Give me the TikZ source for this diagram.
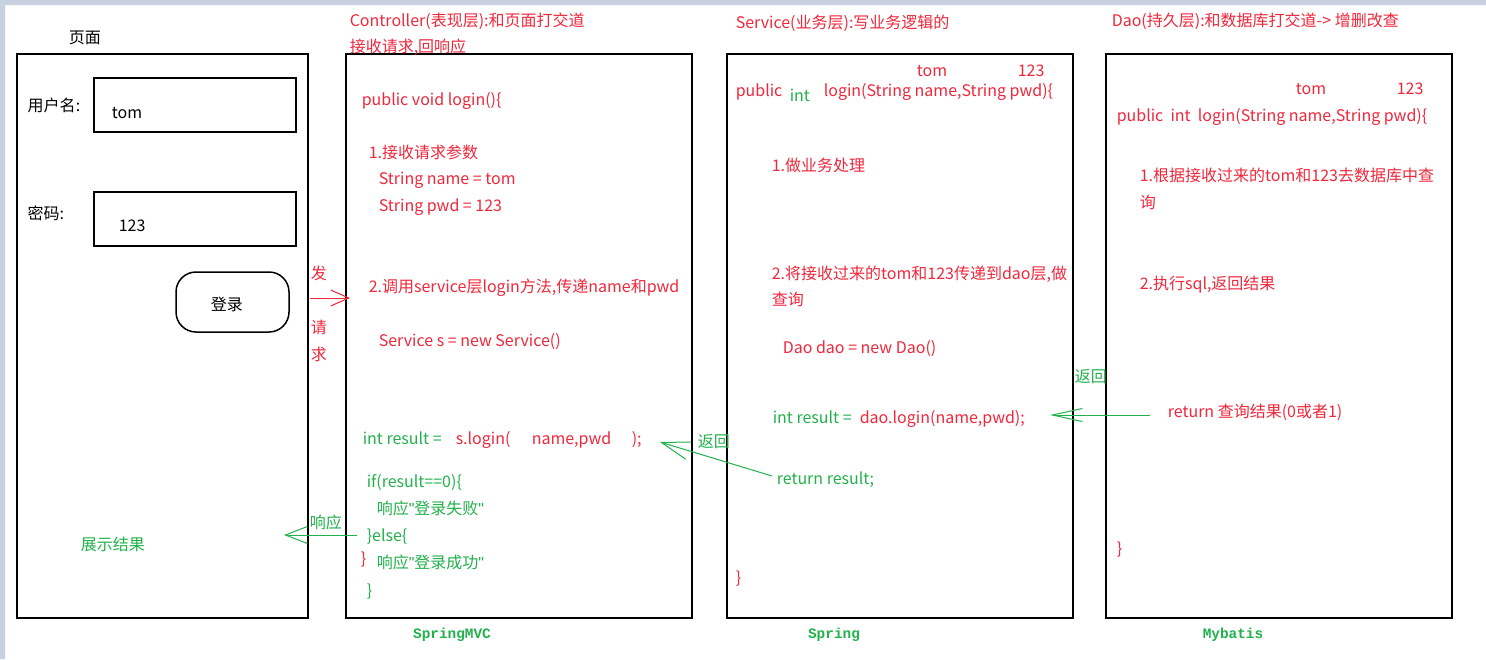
\documentclass[tikz,border=0pt]{standalone}
\usepackage{fontspec}
\setmainfont{Noto Sans CJK SC}
\newfontfamily\codemono{Liberation Mono}
\newfontfamily\quotefont{Liberation Sans}
\newcommand\qq{{\quotefont\char34}}
\usetikzlibrary{arrows.meta}
\definecolor{ink}{HTML}{000000}
\definecolor{redtxt}{HTML}{F0283C}
\definecolor{grntxt}{HTML}{22B14C}
\definecolor{frame}{HTML}{C8D1E0}

\begin{document}
\begin{tikzpicture}[x=.5pt,y=-.5pt,line width=.75pt,
  txt/.style={anchor=base west,yshift=-3pt,inner sep=0pt,font=\fontsize{8}{9.6}\selectfont},
  blk/.style={txt,text=ink},
  rd/.style={txt,text=redtxt},
  gr/.style={txt,text=grntxt},
  tag/.style={inner sep=0pt,font=\fontsize{7.2}{8}\codemono\bfseries,text=grntxt},
  flow/.style={line width=.5pt,-{Straight Barb[length=9pt,width=8pt]}}]
\useasboundingbox (0,0) rectangle (1486,659);
\fill[white] (0,0) rectangle (1486,659);
\fill[frame] (0,0) rectangle (1486,5) (0,0) rectangle (5,659);
% the four columns
\foreach \xa/\xb in {17/308,346/692,727/1073,1106/1452}{\draw (\xa,54) rectangle (\xb,618);}
% page
\node[blk] (pgtitle) at (68,37) {页面};
\draw (94,78) rectangle (296,132) (94,192) rectangle (296,246);
\node[blk] (ulabel) at (27,105) {用户名:};
\node[blk] (uval) at (111,112) {tom};
\node[blk] (plabel) at (27,213) {密码:};
\node[blk] (pval) at (118,225) {123};
\node[draw,rounded corners=10pt,minimum width=56.5pt,minimum height=30pt,inner sep=0pt] (btn) at (232.5,302) {};
\node[blk] (btnlbl) at (210,304) {登录};
\node[gr] (show) at (80,544) {展示结果};
% headers
\node[rd] (hctl) at (349,20) {Controller(表现层):和页面打交道};
\node[rd] (hctl2) at (349,46) {接收请求,回响应};
\node[rd] (hsvc) at (735,22) {Service(业务层):写业务逻辑的};
\node[rd] (hdao) at (1111,20) {Dao(持久层):和数据库打交道-> 增删改查};
% controller
\node[rd] (c1) at (361,99) {public void login()\{};
\node[rd] (c2) at (368,152) {1.接收请求参数};
\node[rd] (c3) at (378,178) {String name = tom};
\node[rd] (c4) at (378,205) {String pwd = 123};
\node[rd] (c5) at (368,286) {2.调用service层login方法,传递name和pwd};
\node[rd] (c6) at (378,340) {Service s = new Service()};
\node[gr] (c7) at (362,438) {int result =};
\node[rd] (c8) at (455,438) {s.login(};
\node[rd] (c9) at (531,438) {name,pwd};
\node[rd] (c10) at (631,438) {);};
\node[gr] (c11) at (366,481) {if(result==0)\{};
\node[gr] (c12) at (376,508) {响应\qq 登录失败\qq};
\node[gr] (c13) at (366,535) {\}else\{};
\node[rd] (c14) at (360,558) {\}};
\node[gr] (c15) at (376,562) {响应\qq 登录成功\qq};
\node[gr] (c16) at (366,590) {\}};
% service
\node[rd] (s0a) at (916,70) {tom};
\node[rd] (s0b) at (1017,70) {123};
\node[rd] (s1) at (735,90) {public};
\node[gr] (s1b) at (789,95) {int};
\node[rd] (s1c) at (823,90) {login(String name,String pwd)\{};
\node[rd] (s2) at (771,165) {1.做业务处理};
\node[rd] (s3) at (771,273) {2.将接收过来的tom和123传递到dao层,做};
\node[rd] (s3b) at (771,299) {查询};
\node[rd] (s4) at (782,347) {Dao dao = new Dao()};
\node[gr] (s5) at (772,417) {int result =};
\node[rd] (s5b) at (859,417) {dao.login(name,pwd);};
\node[gr] (s6) at (776,478) {return result;};
\node[rd] (s7) at (735,577) {\}};
% dao
\node[rd] (d0a) at (1295,88) {tom};
\node[rd] (d0b) at (1396,88) {123};
\node[rd] (d1) at (1116,115) {public\ \ int\ \ login(String name,String pwd)\{};
\node[rd] (d2) at (1139,175) {1.根据接收过来的tom和123去数据库中查};
\node[rd] (d2b) at (1139,202) {询};
\node[rd] (d3) at (1139,283) {2.执行sql,返回结果};
\node[rd] (d4) at (1167,411) {return 查询结果(0或者1)};
\node[rd] (d5) at (1116,548) {\}};
% framework names
\node[tag] (fw1) at (452,635) {SpringMVC};
\node[tag] (fw2) at (834,635) {Spring};
\node[tag] (fw3) at (1233,635) {Mybatis};
% request / response arrows
\coordinate (req-a) at (310,298); \coordinate (req-b) at (350,298);
\draw[flow,redtxt] (req-a) -- (req-b);
\node[rd] (rq1) at (310,273) {发};
\node[rd] (rq2) at (310,327) {请};
\node[rd] (rq3) at (310,354) {求};
\coordinate (resp-a) at (357,535); \coordinate (resp-b) at (284,535);
\draw[flow,grntxt,-{Straight Barb[length=11pt,width=8.5pt]}] (resp-a) -- (resp-b);
\node[gr] (resp) at (309,522) {响应};
\coordinate (ret1-a) at (772,476); \coordinate (ret1-b) at (660,442);
\draw[flow,grntxt,-{Straight Barb[length=14pt,width=9pt]}] (ret1-a) -- (ret1-b);
\node[gr] (ret1) at (697,441) {返回};
\coordinate (ret2-a) at (1150,415); \coordinate (ret2-b) at (1050,415);
\draw[flow,grntxt,-{Straight Barb[length=15pt,width=6.5pt]}] (ret2-a) -- (ret2-b);
\node[gr] (ret2) at (1074,376) {返回};
\end{tikzpicture}
\end{document}
